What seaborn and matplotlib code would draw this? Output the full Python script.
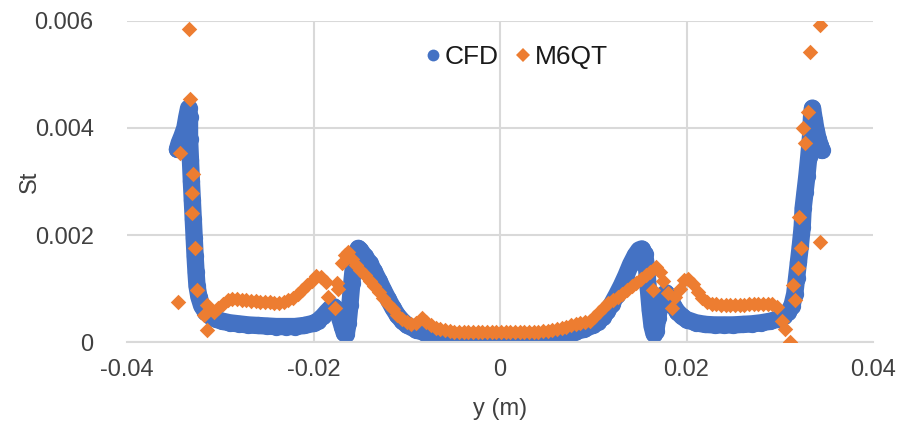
import matplotlib
matplotlib.use("Agg")
import matplotlib.pyplot as plt
from matplotlib.lines import Line2D
import seaborn as sns
import pandas as pd

# CFD wall Stanton number profile (dense numerical solution)
cfd_y = [
    -0.0346, -0.0344, -0.0341, -0.0338, -0.0336, -0.0334, -0.0333, -0.0333,
    -0.0332, -0.0331, -0.0330, -0.0329, -0.0328, -0.0327, -0.0326, -0.0325,
    -0.0323, -0.0320, -0.0316, -0.0311, -0.0305, -0.0298, -0.0290, -0.0280,
    -0.0270, -0.0260, -0.0250, -0.0240, -0.0230, -0.0220, -0.0210, -0.0200,
    -0.0195, -0.0190, -0.0186, -0.0182, -0.0178, -0.0175, -0.0172, -0.0169,
    -0.0167, -0.0165, -0.0163, -0.0161, -0.0159, -0.0157, -0.0155, -0.0152,
    -0.0150, -0.0145, -0.0140, -0.0135, -0.0130, -0.0125, -0.0120, -0.0115,
    -0.0110, -0.0105, -0.0100, -0.0090, -0.0080, -0.0070, -0.0060, -0.0050,
    -0.0040, -0.0030, -0.0020, -0.0010, 0.0000,
    0.0010, 0.0020, 0.0030, 0.0040, 0.0050, 0.0060, 0.0070, 0.0080,
    0.0090, 0.0100, 0.0105, 0.0110, 0.0115, 0.0120, 0.0125, 0.0130,
    0.0135, 0.0140, 0.0145, 0.0149, 0.0152, 0.0155, 0.0157, 0.0159,
    0.0161, 0.0163, 0.0165, 0.0167, 0.0169, 0.0172, 0.0175, 0.0178,
    0.0181, 0.0185, 0.0190, 0.0195, 0.0200, 0.0210, 0.0220, 0.0230,
    0.0240, 0.0250, 0.0260, 0.0270, 0.0280, 0.0290, 0.0298, 0.0304,
    0.0309, 0.0313, 0.0316, 0.0318, 0.0320, 0.0322, 0.0324, 0.0325,
    0.0327, 0.0329, 0.0331, 0.0333, 0.0334, 0.0335, 0.0337, 0.0339,
    0.0341, 0.0343, 0.0345,
]
cfd_st = [
    0.00360, 0.00372, 0.00385, 0.00400, 0.00420, 0.00437, 0.00420, 0.00380,
    0.00340, 0.00300, 0.00265, 0.00230, 0.00195, 0.00160, 0.00130, 0.00105,
    0.00085, 0.00068, 0.00057, 0.00049, 0.00043, 0.00039, 0.00036, 0.00034,
    0.00032, 0.00031, 0.00030, 0.00029, 0.00029, 0.00029, 0.00031, 0.00035,
    0.00040, 0.00048, 0.00056, 0.00063, 0.00066, 0.00060, 0.00045, 0.00028,
    0.00017, 0.00015, 0.00035, 0.00070, 0.00110, 0.00145, 0.00165, 0.00175,
    0.00172, 0.00160, 0.00148, 0.00132, 0.00115, 0.00097, 0.00080, 0.00064,
    0.00050, 0.00040, 0.00032, 0.00023, 0.00017, 0.00014, 0.00012, 0.00011,
    0.00010, 0.00010, 0.00010, 0.00010, 0.00010,
    0.00010, 0.00010, 0.00011, 0.00011, 0.00012, 0.00014, 0.00016, 0.00019,
    0.00024, 0.00032, 0.00038, 0.00046, 0.00058, 0.00072, 0.00088, 0.00105,
    0.00124, 0.00145, 0.00162, 0.00172, 0.00174, 0.00165, 0.00140, 0.00100,
    0.00060, 0.00030, 0.00016, 0.00020, 0.00045, 0.00072, 0.00088, 0.00092,
    0.00085, 0.00070, 0.00057, 0.00048, 0.00042, 0.00036, 0.00033, 0.00032,
    0.00032, 0.00032, 0.00033, 0.00034, 0.00036, 0.00039, 0.00043, 0.00048,
    0.00056, 0.00068, 0.00090, 0.00120, 0.00150, 0.00180, 0.00215, 0.00250,
    0.00280, 0.00310, 0.00345, 0.00385, 0.00420, 0.00437, 0.00415, 0.00395,
    0.00380, 0.00368, 0.00358,
]

# M6QT model predictions
m6qt_y = [
    -0.0345, -0.0343, -0.0334, -0.0333, -0.0329, -0.0330, -0.0330, -0.0327,
    -0.0325, -0.0318, -0.0314, -0.0314, -0.0307, -0.0302, -0.0297, -0.0292,
    -0.0287, -0.0282, -0.0277, -0.0272, -0.0267, -0.0262, -0.0257, -0.0252,
    -0.0247, -0.0242, -0.0237, -0.0232, -0.0227, -0.0222, -0.0217, -0.0212,
    -0.0207, -0.0202, -0.0197, -0.0192, -0.0187, -0.0185, -0.0177, -0.0175,
    -0.0174, -0.0169, -0.0166, -0.0163, -0.0159, -0.0155, -0.0150, -0.0145,
    -0.0140, -0.0135, -0.0130, -0.0125, -0.0120, -0.0115, -0.0110, -0.0105,
    -0.0100, -0.0095, -0.0090, -0.0084, -0.0079, -0.0074, -0.0069, -0.0064,
    -0.0059, -0.0054, -0.0049, -0.0044, -0.0039, -0.0034, -0.0029, -0.0024,
    -0.0019, -0.0014, -0.0009, -0.0004, 0.0001, 0.0006, 0.0011, 0.0016,
    0.0021, 0.0026, 0.0031, 0.0036, 0.0041, 0.0046, 0.0051, 0.0056,
    0.0061, 0.0066, 0.0071, 0.0076, 0.0081, 0.0086, 0.0091, 0.0096,
    0.0101, 0.0106, 0.0111, 0.0116, 0.0121, 0.0126, 0.0131, 0.0136,
    0.0141, 0.0146, 0.0151, 0.0156, 0.0161, 0.0164, 0.0167, 0.0171,
    0.0175, 0.0180, 0.0184, 0.0188, 0.0193, 0.0197, 0.0202, 0.0207,
    0.0212, 0.0217, 0.0222, 0.0227, 0.0232, 0.0237, 0.0242, 0.0247,
    0.0252, 0.0257, 0.0262, 0.0267, 0.0272, 0.0277, 0.0282, 0.0287,
    0.0292, 0.0297, 0.0302, 0.0306, 0.0311, 0.0316, 0.0314, 0.0319,
    0.0323, 0.0321, 0.0343, 0.0327, 0.0325, 0.0330, 0.0332, 0.0343,
]
m6qt_st = [
    0.00075, 0.00353, 0.00585, 0.00454, 0.00314, 0.00278, 0.00241, 0.00176,
    0.00097, 0.00050, 0.00069, 0.00022, 0.00056, 0.00064, 0.00072, 0.00078,
    0.00080, 0.00080, 0.00079, 0.00078, 0.00077, 0.00076, 0.00075, 0.00075,
    0.00074, 0.00073, 0.00073, 0.00075, 0.00078, 0.00083, 0.00090, 0.00098,
    0.00106, 0.00115, 0.00124, 0.00122, 0.00113, 0.00084, 0.00064, 0.00110,
    0.00100, 0.00148, 0.00163, 0.00168, 0.00155, 0.00144, 0.00135, 0.00125,
    0.00115, 0.00104, 0.00093, 0.00082, 0.00071, 0.00061, 0.00051, 0.00043,
    0.00037, 0.00033, 0.00035, 0.00045, 0.00037, 0.00031, 0.00027, 0.00024,
    0.00022, 0.00020, 0.00019, 0.00018, 0.00018, 0.00018, 0.00018, 0.00018,
    0.00018, 0.00018, 0.00018, 0.00018, 0.00018, 0.00018, 0.00018, 0.00018,
    0.00018, 0.00018, 0.00018, 0.00019, 0.00019, 0.00020, 0.00021, 0.00023,
    0.00025, 0.00027, 0.00029, 0.00031, 0.00033, 0.00035, 0.00037, 0.00040,
    0.00047, 0.00056, 0.00065, 0.00073, 0.00078, 0.00084, 0.00090, 0.00097,
    0.00104, 0.00110, 0.00117, 0.00125, 0.00131, 0.00097, 0.00140, 0.00130,
    0.00115, 0.00092, 0.00064, 0.00085, 0.00100, 0.00116, 0.00117, 0.00108,
    0.00094, 0.00082, 0.00075, 0.00072, 0.00071, 0.00070, 0.00070, 0.00070,
    0.00070, 0.00070, 0.00070, 0.00071, 0.00071, 0.00072, 0.00072, 0.00072,
    0.00071, 0.00066, 0.00040, 0.00025, 0.00000, 0.00079, 0.00107, 0.00138,
    0.00176, 0.00234, 0.00187, 0.00372, 0.00400, 0.00430, 0.00542, 0.00593,
]

x_ticks = [-0.04, -0.02, 0.0, 0.02, 0.04]
x_tick_labels = ["-0.04", "-0.02", "0", "0.02", "0.04"]
y_ticks = [0.0, 0.002, 0.004, 0.006]
y_tick_labels = ["0", "0.002", "0.004", "0.006"]

cfd = pd.DataFrame({"y": cfd_y, "St": cfd_st})
m6qt = pd.DataFrame({"y": m6qt_y, "St": m6qt_st})

BLUE = "#4472C4"
ORANGE = "#ED7D31"
TEXT = "#404040"
GRID = "#D9D9D9"

sns.set_theme(style="white")
plt.rcParams["font.family"] = ["Liberation Sans", "DejaVu Sans"]

fig = plt.figure(figsize=(9.01, 4.26), dpi=100)
ax = fig.add_axes([0.141, 0.197, 0.828, 0.754])

# CFD: densely packed circles, drawn as a thick round-joined trace plus markers
sns.lineplot(data=cfd, x="y", y="St", sort=False, estimator=None, ax=ax,
             color=BLUE, linewidth=12.5, solid_capstyle="round",
             solid_joinstyle="round", legend=False, zorder=2)
sns.scatterplot(data=cfd, x="y", y="St", ax=ax, color=BLUE, marker="o",
                s=155, linewidth=0, legend=False, zorder=2)

# M6QT: diamonds
sns.scatterplot(data=m6qt, x="y", y="St", ax=ax, color=ORANGE, marker="D",
                s=62, linewidth=0, legend=False, zorder=3)

ax.set_xlim(-0.04, 0.04)
ax.set_ylim(0, 0.006)
ax.set_xticks(x_ticks)
ax.set_xticklabels(x_tick_labels)
ax.set_yticks(y_ticks)
ax.set_yticklabels(y_tick_labels)
ax.tick_params(axis="both", length=0, labelsize=17, colors=TEXT)
ax.tick_params(axis="y", pad=24)
ax.tick_params(axis="x", pad=12)

# horizontal grid at every tick, vertical grid only at interior ticks
ax.yaxis.grid(True, color=GRID, linewidth=1.5, zorder=0)
for xv in x_ticks[1:-1]:
    ax.axvline(xv, color=GRID, linewidth=1.5, zorder=0)
ax.set_axisbelow(True)
for side in ["left", "right", "top"]:
    ax.spines[side].set_visible(False)
ax.spines["bottom"].set_color(GRID)
ax.spines["bottom"].set_linewidth(1.5)

ax.set_xlabel("y (m)", fontsize=17, color=TEXT)
ax.set_ylabel("St", fontsize=17, color=TEXT)
ax.xaxis.set_label_coords(0.5, -0.175)
ax.yaxis.set_label_coords(-0.116, 0.5)

handles = [
    Line2D([], [], linestyle="none", marker="o", markersize=8.5,
           markerfacecolor=BLUE, markeredgewidth=0, label="CFD"),
    Line2D([], [], linestyle="none", marker="D", markersize=7,
           markerfacecolor=ORANGE, markeredgewidth=0, label="M6QT"),
]
leg = ax.legend(handles=handles, loc="center", bbox_to_anchor=(0.522, 0.888),
                ncol=2, frameon=False, fontsize=19, handlelength=0.6,
                handletextpad=0.15, columnspacing=0.6)
for t in leg.get_texts():
    t.set_color("#1a1a1a")

fig.savefig("out.png", dpi=100)
